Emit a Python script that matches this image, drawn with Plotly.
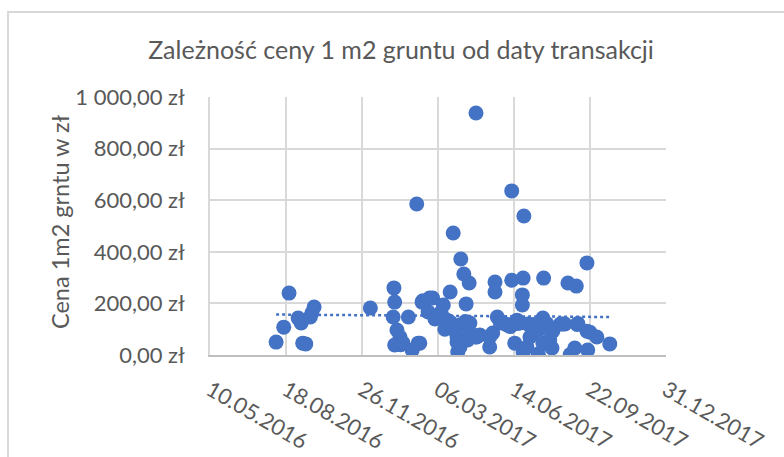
import numpy as np
import pandas as pd
import plotly.graph_objects as go

# ---- data ----
dates = [
    "2016-08-05", "2016-08-15", "2016-08-22", "2016-09-03", "2016-09-07", "2016-09-09",
    "2016-09-13", "2016-09-19", "2016-09-21", "2016-09-24", "2016-12-07",
    "2017-01-07", "2017-01-08", "2017-01-06", "2017-01-11", "2017-01-15", "2017-01-08",
    "2017-01-16", "2017-01-19", "2017-01-31", "2017-02-08", "2017-01-26", "2017-02-06",
    "2017-02-13", "2017-02-21", "2017-02-27", "2017-03-09", "2017-03-18", "2017-03-22",
    "2017-03-22", "2017-03-26", "2017-03-31", "2017-04-01", "2017-04-05", "2017-04-09",
    "2017-04-16", "2017-04-12", "2017-04-17", "2017-04-24", "2017-04-25", "2017-04-04",
    "2017-04-14", "2017-04-26", "2017-05-13", "2017-05-17", "2017-05-20", "2017-05-20",
    "2017-05-23", "2017-06-05", "2017-06-11", "2017-06-11", "2017-06-18", "2017-06-15",
    "2017-06-27", "2017-06-26", "2017-06-25", "2017-06-25", "2017-07-23", "2017-07-22",
    "2017-05-27", "2017-06-13", "2017-06-22", "2017-07-09", "2017-07-27", "2017-08-14",
    "2017-06-26", "2017-07-01", "2017-07-16", "2017-07-31", "2017-07-05", "2017-07-22",
    "2017-08-03", "2017-08-27", "2017-09-02", "2017-09-19", "2017-08-24", "2017-09-04",
    "2017-09-18", "2017-08-20", "2017-09-06", "2017-09-22", "2017-10-01", "2017-10-18",
    "2017-02-23", "2017-02-14", "2017-03-13", "2017-03-11", "2017-03-22", "2017-04-04",
    "2017-04-17", "2017-04-30", "2017-05-13", "2017-05-31", "2017-06-09", "2017-03-31",
    "2017-06-22", "2017-06-05", "2017-06-18", "2017-07-02",
    "2017-07-18", "2017-08-04", "2017-08-17", "2017-09-05", "2017-09-18", "2017-07-09",
    "2017-02-10", "2017-03-02", "2017-03-15",
    "2017-03-28", "2017-04-11",
]
prices = [
    50, 108, 240, 143, 124, 46,
    43, 147, 163, 186, 182,
    260, 205, 147, 97, 70, 39,
    40, 46, 19, 46, 147, 585,
    205, 167, 221, 163, 135, 244,
    108, 473, 70, 12, 372, 314,
    279, 198, 124, 70, 938, 31,
    58, 70, 31, 85, 283, 244,
    147, 118, 290, 636, 122, 46,
    539, 298, 233, 194, 298, 143,
    124, 120, 125, 118, 122, 120,
    12, 31, 4, 58, 70, 46,
    27, 2, 27, 19, 279, 267,
    357, 120, 122, 88, 70, 43,
    221, 210, 194, 155, 128, 116,
    89, 78, 70, 124, 110, 50,
    124, 116, 135, 120,
    100, 92, 120, 118, 92, 85,
    46, 140, 100,
    95, 130,
]

x_ticks = ["2016-05-10", "2016-08-18", "2016-11-26", "2017-03-06",
           "2017-06-14", "2017-09-22", "2017-12-31"]
y_ticks = [0, 200, 400, 600, 800, 1000]

title_text = "Zależność ceny 1 m2 gruntu od daty transakcji"
y_title = "Cena 1m2 grntu w zł"


def fmt_pln(v):
    s = f"{v:,.2f}"
    s = s.replace(",", " ").replace(".", ",")
    return s + " zł"


x_tick_text = [pd.Timestamp(d).strftime("%d.%m.%Y") for d in x_ticks]
y_tick_text = [fmt_pln(v) for v in y_ticks]

# linear trend (Excel-style) computed from the data
dt = pd.to_datetime(dates)
t0 = dt.min()
days = np.array([(d - t0).days for d in dt], dtype=float)
slope, icpt = np.polyfit(days, np.array(prices, dtype=float), 1)
trend_x = [dt.min(), dt.max()]
trend_y = [icpt, icpt + slope * days.max()]

# ---- layout geometry (pixels) ----
W, H = 784, 457
L, R, T, B = 210, 666, 97, 355
pw, ph = R - L, B - T


def px(x):
    return (x - L) / pw


def py(y):
    return (B - y) / ph


grey = "#595959"
grid = "#d9d9d9"
blue = "#4472C4"
font_fam = "Lato, 'Open Sans', sans-serif"

fig = go.Figure()
fig.add_trace(go.Scatter(
    x=dates, y=prices, mode="markers",
    marker=dict(size=15, color=blue, line=dict(width=0)),
    showlegend=False,
))
fig.add_trace(go.Scatter(
    x=trend_x, y=trend_y, mode="lines",
    line=dict(color=blue, width=2.5, dash="dot"),
    showlegend=False,
))

fig.update_layout(
    width=W, height=H,
    margin=dict(l=L, r=W - R, t=T, b=H - B, autoexpand=False),
    paper_bgcolor="white", plot_bgcolor="white",
    font=dict(family=font_fam, color=grey),
    title=dict(text=title_text, x=401 / W, xanchor="center",
               y=1 - 50 / H, yanchor="middle",
               font=dict(size=25, color=grey, family=font_fam)),
    xaxis=dict(
        type="date",
        range=[x_ticks[0], x_ticks[-1]],
        tickmode="array", tickvals=x_ticks, ticktext=x_tick_text,
        tickangle=30, tickfont=dict(size=22, color=grey),
        showgrid=True, gridcolor=grid, gridwidth=1.5,
        showline=True, linecolor="#bfbfbf", linewidth=1.5,
        zeroline=False, ticks="", ticklabelstandoff=12,
        automargin=False,
    ),
    yaxis=dict(
        range=[0, 1000],
        tickmode="array", tickvals=y_ticks, ticktext=y_tick_text,
        tickfont=dict(size=22, color=grey),
        showgrid=True, gridcolor=grid, gridwidth=1.5,
        showline=True, linecolor=grid, linewidth=1.5,
        zeroline=False, ticks="", ticklabelstandoff=19,
        automargin=False,
    ),
    annotations=[dict(
        text=y_title, xref="paper", yref="paper",
        x=px(60), y=py(222), xanchor="center", yanchor="middle",
        textangle=-90, showarrow=False,
        font=dict(size=23.5, color=grey, family=font_fam),
    )],
    shapes=[dict(
        type="rect", xref="paper", yref="paper",
        x0=px(8), x1=px(800), y0=py(470), y1=py(12),
        line=dict(color="#d9d9d9", width=2), fillcolor="rgba(0,0,0,0)",
        layer="below",
    )],
)

fig.write_html("out.html",
               config={"displayModeBar": False},
               post_script="document.body.style.margin='0';document.body.style.overflow='hidden';")
